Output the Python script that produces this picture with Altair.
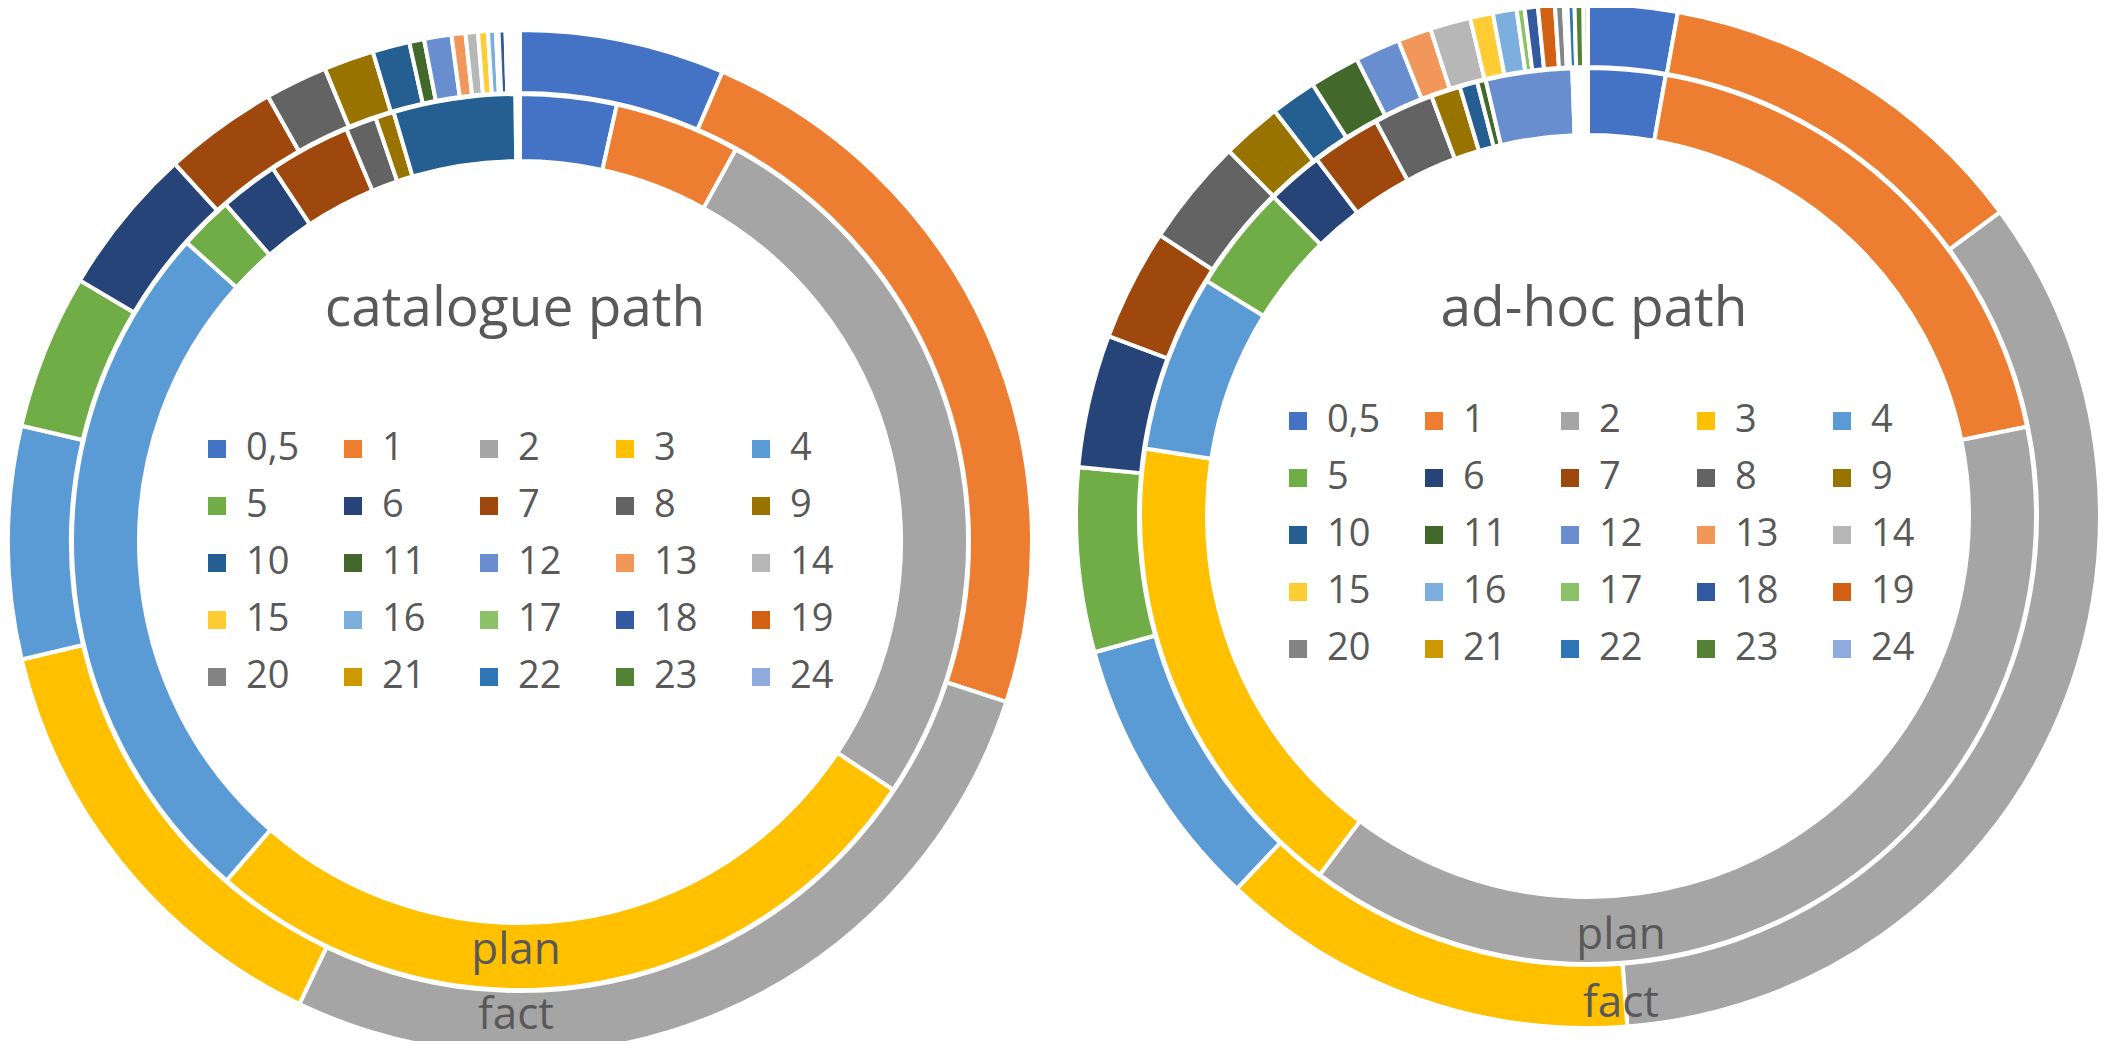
import altair as alt
import pandas as pd

# ---- data -------------------------------------------------------------
labels = ["0,5", "1", "2", "3", "4", "5", "6", "7", "8", "9", "10", "11", "12",
          "13", "14", "15", "16", "17", "18", "19", "20", "21", "22", "23", "24"]

colors = ["#4472C4", "#ED7D31", "#A5A5A5", "#FFC000", "#5B9BD5", "#70AD47",
          "#264478", "#9E480E", "#636363", "#997300", "#255E91", "#43682B",
          "#698ED0", "#F1975A", "#B7B7B7", "#FFCD33", "#7CAFDD", "#8CC168",
          "#335AA1", "#D26012", "#848484", "#CC9A00", "#2E75B6", "#548235",
          "#8FAADC"]

# shares in % (outer ring = fact, inner ring = plan)
catalogue_fact = [6.47, 23.58, 27.03, 14.22, 7.33, 4.89, 4.69, 3.58, 1.97, 1.58,
                  1.17, 0.47, 0.86, 0.44, 0.39, 0.31, 0.25, 0.08, 0.22, 0.08,
                  0.06, 0.06, 0.06, 0.08, 0.11]
catalogue_plan = [3.47, 4.53, 26.33, 27.03, 25.28, 1.94, 2.11, 2.97, 1.11, 0.67,
                  4.39, 0.08, 0.08, 0, 0, 0, 0, 0, 0, 0,
                  0, 0, 0, 0, 0]
adhoc_fact = [2.81, 12.08, 33.89, 13.25, 8.69, 5.81, 4.19, 3.53, 3.39, 1.89,
              1.44, 1.58, 1.42, 1.06, 1.28, 0.72, 0.75, 0.25, 0.42, 0.53,
              0.28, 0.11, 0.22, 0.28, 0.14]
adhoc_plan = [2.78, 19.03, 38.42, 17.19, 6.39, 3.83, 2.03, 2.50, 2.17, 1.06,
              0.64, 0.31, 3.11, 0.07, 0.07, 0.07, 0.07, 0.07, 0.07, 0.07,
              0.07, 0, 0, 0, 0]

panel_titles = ["catalogue path", "ad-hoc path"]
ring_names = ["plan", "fact"]

# ---- styling ----------------------------------------------------------
FONT = "Open Sans"
TEXT_COLOR = "#595959"
color_scale = alt.Scale(domain=labels, range=colors)

OUTER = (449, 512)
INNER = (381, 448)


def ring(values, cx, cy, radii, legend):
    df = pd.DataFrame({"label": labels, "idx": list(range(len(labels))), "value": values})
    return alt.Chart(df).mark_arc(
        innerRadius=radii[0], outerRadius=radii[1], stroke="white", strokeWidth=4
    ).encode(
        theta=alt.Theta("value:Q", stack=True),
        order=alt.Order("idx:Q"),
        color=alt.Color("label:N", scale=color_scale, legend=legend),
        x=alt.value(cx),
        y=alt.value(cy),
    )


def text(t, x, y, size):
    return alt.Chart(pd.DataFrame({"t": [t]})).mark_text(
        font=FONT, fontSize=size, color=TEXT_COLOR, align="center", baseline="alphabetic"
    ).encode(text="t:N", x=alt.value(x), y=alt.value(y))


def make_legend(lx, ly):
    return alt.Legend(
        orient="none", legendX=lx, legendY=ly, title=None, columns=5,
        direction="horizontal",
        symbolType="square", symbolSize=324, symbolStrokeWidth=0, symbolOpacity=1,
        labelFont=FONT, labelFontSize=38, labelColor=TEXT_COLOR, labelOffset=10,
        columnPadding=34, rowPadding=19, gridAlign="all", padding=0,
    )


# left panel (catalogue path)
lcx, lcy = 512, 534
left = alt.layer(
    ring(catalogue_fact, lcx, lcy, OUTER, make_legend(190, 422)),
    ring(catalogue_plan, lcx, lcy, INNER, make_legend(190, 422)),
    text(panel_titles[0], 507, 318, 55),
    text(ring_names[0], 508, 956, 44),
    text(ring_names[1], 508, 1021, 44),
).resolve_scale(theta="independent")

# right panel (ad-hoc path)
rcx, rcy = 1580, 508
right = alt.layer(
    ring(adhoc_fact, rcx, rcy, OUTER, make_legend(1271, 394)),
    ring(adhoc_plan, rcx, rcy, INNER, make_legend(1271, 394)),
    text(panel_titles[1], 1586, 318, 55),
    text(ring_names[0], 1613, 941, 44),
    text(ring_names[1], 1613, 1009, 44),
).resolve_scale(theta="independent")

chart = alt.layer(left, right).resolve_scale(color="independent").properties(
    width=2091, height=1033, autosize=alt.AutoSizeParams(type="none"), padding=0
).configure_view(strokeWidth=0)

chart.save("out.html", embed_options={"renderer": "svg", "actions": False})
